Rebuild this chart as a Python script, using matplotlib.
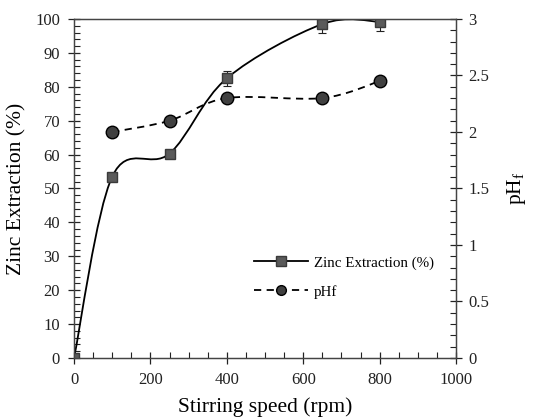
import numpy as np
import matplotlib
matplotlib.use('Agg')
import matplotlib.pyplot as plt
from matplotlib.path import Path
from matplotlib.patches import PathPatch
from matplotlib.lines import Line2D
from matplotlib.ticker import MultipleLocator

plt.rcParams['font.family'] = ['Liberation Serif', 'DejaVu Serif']
plt.rcParams['mathtext.fontset'] = 'custom'
plt.rcParams['mathtext.rm'] = 'Liberation Serif'
plt.rcParams['mathtext.it'] = 'Liberation Serif:italic'

# data
speed = [0, 100, 250, 400, 650, 800]
zinc = [0, 53.5, 60.3, 82.5, 98.5, 99.2]
zinc_err = [0, 1.0, 1.2, 2.3, 2.6, 2.7]
speed_ph = [100, 250, 400, 650, 800]
ph = [2.0, 2.1, 2.3, 2.3, 2.45]


def smooth_path(x, y):
    # Excel-like smoothed line: cubic Bezier segments with Catmull-Rom control points
    x = np.asarray(x, float)
    y = np.asarray(y, float)
    n = len(x)
    verts = [(x[0], y[0])]
    codes = [Path.MOVETO]
    for i in range(n - 1):
        i0 = max(i - 1, 0)
        i3 = min(i + 2, n - 1)
        c1 = (x[i] + (x[i + 1] - x[i0]) / 6, y[i] + (y[i + 1] - y[i0]) / 6)
        c2 = (x[i + 1] - (x[i3] - x[i]) / 6, y[i + 1] - (y[i3] - y[i]) / 6)
        verts += [c1, c2, (x[i + 1], y[i + 1])]
        codes += [Path.CURVE4] * 3
    return Path(verts, codes)


fig = plt.figure(figsize=(5.45, 4.19), dpi=100)
ax = fig.add_axes([0.1358, 0.1456, 0.7009, 0.8091])
ax2 = ax.twinx()

# zinc extraction
ax.add_patch(PathPatch(smooth_path(speed, zinc), facecolor='none', edgecolor='black', lw=1.3, zorder=2))
ax.errorbar(speed, zinc, yerr=zinc_err, fmt='none', ecolor='#222222', elinewidth=0.8, capsize=3, capthick=0.8, zorder=3)
ax.plot(speed, zinc, linestyle='none', marker='s', markersize=7, markerfacecolor='#5a5a5a',
        markeredgecolor='#3a3a3a', zorder=4)

# pH
ax2.add_patch(PathPatch(smooth_path(speed_ph, ph), facecolor='none', edgecolor='black', lw=1.3,
                        linestyle=(0, (4, 3)), zorder=2))
ax2.plot(speed_ph, ph, linestyle='none', marker='o', markersize=9, markerfacecolor='#404040',
         markeredgecolor='black', markeredgewidth=1.0, zorder=4)

ax.set_xlim(0, 1000)
ax.set_ylim(0, 100)
ax2.set_ylim(0, 3)

ax.xaxis.set_major_locator(MultipleLocator(200))
ax.xaxis.set_minor_locator(MultipleLocator(50))
ax.yaxis.set_major_locator(MultipleLocator(10))
ax.yaxis.set_minor_locator(MultipleLocator(2))
ax2.yaxis.set_major_locator(MultipleLocator(0.5))
ax2.yaxis.set_minor_locator(MultipleLocator(0.1))
ax2.yaxis.set_major_formatter(plt.FuncFormatter(lambda v, p: f'{v:g}'))

ax.tick_params(axis='both', which='major', direction='inout', length=8, width=0.9, labelsize=12,
               colors='#222222', pad=6)
ax.tick_params(axis='both', which='minor', direction='in', length=4, width=0.8, colors='#222222')
ax2.tick_params(axis='y', which='major', direction='inout', length=8, width=0.9, labelsize=12,
                colors='#222222', pad=5)
ax2.tick_params(axis='y', which='minor', direction='in', length=4, width=0.8, colors='#222222')
for a in (ax, ax2):
    for s in a.spines.values():
        s.set_color('#444444')
        s.set_linewidth(0.9)

ax.set_xlabel('Stirring speed (rpm)', fontsize=15.5, labelpad=7)
ax.set_ylabel('Zinc Extraction (%)', fontsize=15.5, labelpad=6)
ax2.set_ylabel('$\\mathregular{pH_f}$', fontsize=15.5, labelpad=11)

# legend
h1 = Line2D([], [], color='black', lw=1.3, marker='s', markersize=6.5,
            markerfacecolor='#5a5a5a', markeredgecolor='#3a3a3a')
h2 = Line2D([], [], color='black', lw=1.3, linestyle=(0, (4, 3)), marker='o', markersize=7,
            markerfacecolor='#404040', markeredgecolor='black')
ax.legend([h1, h2], ['Zinc Extraction (%)', 'pHf'], loc='upper left', bbox_to_anchor=(0.435, 0.34),
          frameon=False, fontsize=10.8, handlelength=3.6, handletextpad=0.4, labelspacing=1.0)

plt.savefig('out.png', dpi=100)
plt.close()
